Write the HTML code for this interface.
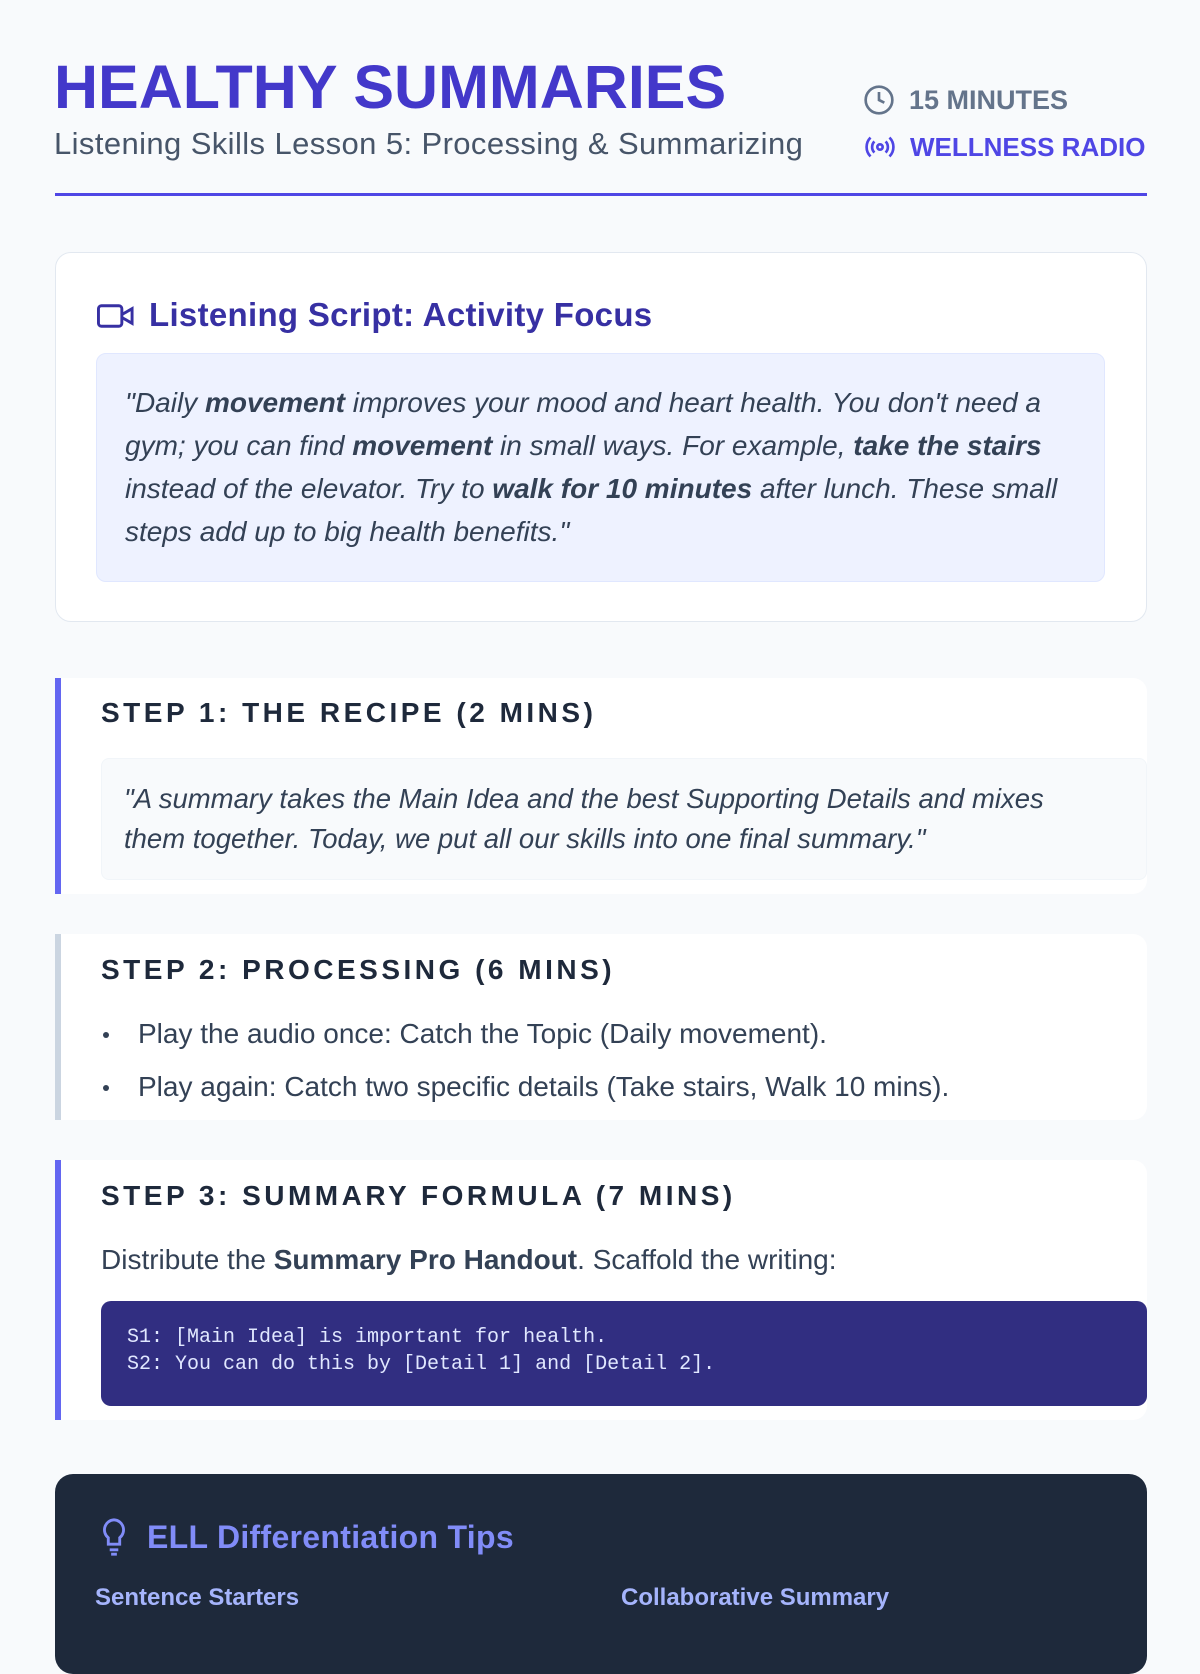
<!DOCTYPE html>
<html><head><meta charset="utf-8"><style>
*{box-sizing:border-box;margin:0;padding:0}
body{width:1200px;height:1600px;overflow:hidden;background:#f8fafc;font-family:"Liberation Sans",sans-serif;color:#334155;position:relative}
.abs{position:absolute}
.title{left:54px;top:52px;font-size:61px;font-weight:bold;color:#4338ca;letter-spacing:0px;white-space:nowrap}
.sub{left:54px;top:126px;font-size:31px;letter-spacing:0.4px;color:#475569;white-space:nowrap}
.meta{left:864px;font-size:27px;font-weight:bold;white-space:nowrap;display:flex;align-items:center;gap:14px}
.rule{left:55px;top:193px;width:1092px;height:3px;background:#4f46e5}
.card{left:55px;top:252px;width:1092px;height:370px;background:#fff;border:1px solid #e2e8f0;border-radius:16px}
.h{font-size:33px;letter-spacing:0.3px;font-weight:bold;color:#3730a3;white-space:nowrap}
.quote{left:96px;top:353px;width:1009px;height:229px;background:#eef2ff;border:1px solid #e0e7ff;border-radius:10px;padding:27px 28px;font-style:italic;font-size:28px;line-height:43px;color:#334155}
.step{left:55px;width:1092px;background:#fff;border-radius:0 14px 14px 0;border-left:6px solid #6366f1}
.sh{position:absolute;left:40px;font-size:28px;font-weight:bold;letter-spacing:3.5px;color:#1e293b;white-space:nowrap}
.q2{position:absolute;left:40px;top:80px;right:0;height:122px;background:#f8fafc;border:1px solid #f1f5f9;border-radius:8px;padding:20px 60px 20px 22px;font-style:italic;font-size:27.5px;line-height:40px;color:#334155}
.li{position:absolute;left:40px;font-size:28px;white-space:nowrap;line-height:34px}
.li:before{content:"";position:absolute;left:2px;top:15px;width:6px;height:6px;border-radius:50%;background:#334155}
.li span{padding-left:37px}
.code{position:absolute;left:40px;top:141px;right:0;height:105px;background:#312e81;border-radius:10px;padding:23px 26px;font-family:"Liberation Mono",monospace;font-size:20px;line-height:27px;color:#e0e7ff;white-space:pre}
.dark{left:55px;top:1474px;width:1092px;height:200px;background:#1e293b;border-radius:18px}
</style></head><body>
<div class="abs title">HEALTHY SUMMARIES</div>
<div class="abs sub">Listening Skills Lesson 5: Processing &amp; Summarizing</div>
<div class="abs meta" style="top:84px;color:#64748b">
<svg width="32" height="32" viewBox="0 0 24 24" fill="none" stroke="#64748b" stroke-width="2" style="margin-left:-1px"><circle cx="12" cy="12" r="10"/><path d="M12 6v6l4 2"/></svg><span>15 MINUTES</span></div>
<div class="abs meta" style="top:131px;color:#4f46e5;font-size:26px">
<svg width="32" height="32" viewBox="0 0 24 24" fill="none" stroke="#4f46e5" stroke-width="2"><circle cx="12" cy="12" r="2"/><path d="M16.2 7.8a6 6 0 0 1 0 8.4M7.8 16.2a6 6 0 0 1 0-8.4M19.1 4.9a10 10 0 0 1 0 14.2M4.9 19.1a10 10 0 0 1 0-14.2"/></svg><span>WELLNESS RADIO</span></div>
<div class="abs rule"></div>

<div class="abs card"></div>
<svg class="abs" style="left:97px;top:302px" width="38" height="28" viewBox="0 0 26 18" fill="none" stroke="#3730a3" stroke-width="2"><rect x="1" y="2" width="16" height="14" rx="2"/><path d="M17 8l7-4v10l-7-4"/></svg>
<div class="abs h" style="left:149px;top:296px">Listening Script: Activity Focus</div>
<div class="abs quote">"Daily <b>movement</b> improves your mood and heart health. You don't need a gym; you can find <b>movement</b> in small ways. For example, <b>take the stairs</b> instead of the elevator. Try to <b>walk for 10 minutes</b> after lunch. These small steps add up to big health benefits."</div>

<div class="abs step" style="top:678px;height:216px">
<div class="sh" style="top:19px">STEP 1: THE RECIPE (2 MINS)</div>
<div class="q2">"A summary takes the Main Idea and the best Supporting Details and mixes them together. Today, we put all our skills into one final summary."</div>
</div>

<div class="abs step" style="top:934px;height:186px;border-left-color:#cbd5e1">
<div class="sh" style="top:20px">STEP 2: PROCESSING (6 MINS)</div>
<div class="li" style="top:83px"><span>Play the audio once: Catch the Topic (Daily movement).</span></div>
<div class="li" style="top:136px"><span>Play again: Catch two specific details (Take stairs, Walk 10 mins).</span></div>
</div>

<div class="abs step" style="top:1160px;height:260px">
<div class="sh" style="top:20px">STEP 3: SUMMARY FORMULA (7 MINS)</div>
<div style="position:absolute;left:40px;top:84px;font-size:28px;white-space:nowrap">Distribute the <b>Summary Pro Handout</b>. Scaffold the writing:</div>
<div class="code">S1: [Main Idea] is important for health.
S2: You can do this by [Detail 1] and [Detail 2].</div>
</div>

<div class="abs dark"></div>
<svg class="abs" style="left:99px;top:1517px" width="30" height="40" viewBox="0 0 20 28" fill="none" stroke="#818cf8" stroke-width="2"><path d="M10 2a7 7 0 0 0-4 12.5V19h8v-4.5A7 7 0 0 0 10 2z"/><path d="M7 23h6M8 26h4"/></svg>
<div class="abs h" style="left:147px;top:1519px;color:#818cf8;font-size:32px">ELL Differentiation Tips</div>
<div class="abs" style="left:95px;top:1584px;font-size:24px;font-weight:bold;color:#a5b4fc">Sentence Starters</div>
<div class="abs" style="left:621px;top:1584px;font-size:24px;font-weight:bold;color:#a5b4fc">Collaborative Summary</div>
</body></html>
